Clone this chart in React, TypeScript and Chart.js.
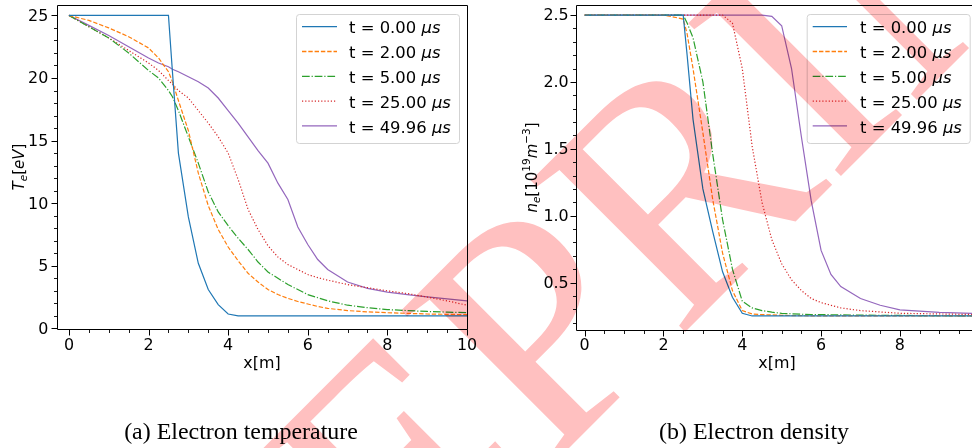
import React, { useEffect, useRef } from "react";
import { Chart, registerables } from "chart.js";

Chart.register(...registerables);

// ---------------- data ----------------
const seriesTimes = ["0.00", "2.00", "5.00", "25.00", "49.96"];
const seriesColors = ["#1f77b4", "#ff7f0e", "#2ca02c", "#d62728", "#9467bd"];
const seriesDashes: number[][] = [[], [4.4, 1.9], [7.7, 1.9, 1.2, 1.9], [1.2, 2.0], []];

// (a) electron temperature [eV] vs x [m]
const xTe = [0, 0.5, 1, 1.5, 2, 2.25, 2.5, 2.6, 2.75, 3, 3.25, 3.5, 3.75, 4, 4.25, 4.5, 4.75, 5, 5.25, 5.5, 5.75, 6, 6.25, 6.5, 7, 7.5, 8, 8.5, 9, 9.5, 10];
const teT0 = [25, 25, 25, 25, 25, 25, 25, 20.5, 14, 8.9, 5.2, 3.1, 1.9, 1.15, 1, 1, 1, 1, 1, 1, 1, 1, 1, 1, 1, 1, 1, 1, 1, 1, 1];
const teT2 = [25, 24.6, 24.0, 23.3, 22.4, 21.6, 20.5, 19.7, 18.2, 15.8, 12.4, 9.8, 7.9, 6.5, 5.4, 4.4, 3.7, 3.1, 2.7, 2.4, 2.15, 1.95, 1.75, 1.6, 1.42, 1.32, 1.25, 1.2, 1.15, 1.12, 1.1];
const teT5 = [25, 24.1, 23.2, 22.0, 20.6, 20.0, 19.0, 18.5, 17.4, 15.3, 13.2, 10.9, 9.3, 8.2, 7.2, 6.3, 5.3, 4.5, 4.0, 3.5, 3.1, 2.7, 2.45, 2.2, 1.85, 1.65, 1.5, 1.42, 1.35, 1.3, 1.25];
const teT25 = [25, 24.1, 23.2, 22.2, 21.2, 20.6, 19.8, 19.5, 19.0, 18.4, 17.4, 16.4, 15.3, 14.0, 11.9, 9.5, 7.9, 6.6, 5.7, 5.1, 4.7, 4.3, 4.05, 3.85, 3.5, 3.25, 3.0, 2.78, 2.5, 2.2, 1.85];
const teT50 = [25, 24.2, 23.4, 22.5, 21.6, 21.2, 20.9, 20.7, 20.5, 20.1, 19.7, 19.2, 18.4, 17.4, 16.4, 15.3, 14.2, 13.2, 11.6, 10.3, 8.1, 6.7, 5.5, 4.7, 3.7, 3.2, 2.9, 2.7, 2.52, 2.36, 2.2];

// (b) electron density [1e19 m^-3] vs x [m]
const xNe = [0, 1, 2, 2.5, 2.6, 2.75, 3, 3.25, 3.5, 3.75, 4, 4.25, 4.5, 4.75, 5, 5.25, 5.5, 5.75, 6, 6.25, 6.5, 7, 7.5, 8, 9, 10];
const neT0 = [2.5, 2.5, 2.5, 2.5, 2.2, 1.72, 1.2, 0.88, 0.58, 0.39, 0.27, 0.25, 0.25, 0.25, 0.25, 0.25, 0.25, 0.25, 0.25, 0.25, 0.25, 0.25, 0.25, 0.25, 0.25, 0.25];
const neT2 = [2.5, 2.5, 2.5, 2.47, 2.36, 2.1, 1.62, 1.12, 0.72, 0.44, 0.29, 0.265, 0.26, 0.258, 0.255, 0.253, 0.252, 0.251, 0.25, 0.25, 0.25, 0.25, 0.25, 0.25, 0.25, 0.25];
const neT5 = [2.5, 2.5, 2.5, 2.5, 2.44, 2.33, 2.0, 1.46, 0.97, 0.6, 0.36, 0.31, 0.29, 0.278, 0.27, 0.266, 0.263, 0.261, 0.26, 0.259, 0.258, 0.256, 0.255, 0.254, 0.252, 0.25];
const neT25 = [2.5, 2.5, 2.5, 2.5, 2.5, 2.5, 2.5, 2.5, 2.5, 2.44, 2.1, 1.52, 1.1, 0.82, 0.64, 0.52, 0.44, 0.38, 0.35, 0.33, 0.31, 0.29, 0.28, 0.27, 0.265, 0.26];
const neT50 = [2.5, 2.5, 2.5, 2.5, 2.5, 2.5, 2.5, 2.5, 2.5, 2.5, 2.5, 2.5, 2.5, 2.49, 2.42, 2.1, 1.59, 1.11, 0.74, 0.56, 0.47, 0.38, 0.33, 0.295, 0.277, 0.268];

const xTicksTe = [0, 2, 4, 6, 8, 10];
const yTicksTe = [0, 5, 10, 15, 20, 25];
const xTicksNe = [0, 2, 4, 6, 8];
const yTicksNe = [0.5, 1.0, 1.5, 2.0, 2.5];

const xAxisTitle = "x[m]";
const captionA = "(a) Electron temperature";
const captionB = "(b) Electron density";
const watermarkText = "PREPRINT";

// ---------------- drawing helpers ----------------
const SX = 1.06;
const FONT = '"DejaVu Sans", sans-serif';
const FS = 15;
const LFS = 15.5;

type Seg = { t: string; it?: boolean; sub?: boolean; sup?: boolean };

function drawRich(
  ctx: CanvasRenderingContext2D,
  segs: Seg[],
  x: number,
  y: number,
  size: number,
  rotate: boolean,
  align: "left" | "center" | "right"
) {
  ctx.save();
  ctx.translate(x, y);
  ctx.scale(SX, 1);
  if (rotate) ctx.rotate(-Math.PI / 2);
  const fontOf = (s: Seg) => `${s.it ? "italic " : ""}${s.sub || s.sup ? size * 0.7 : size}px ${FONT}`;
  let total = 0;
  for (const s of segs) {
    ctx.font = fontOf(s);
    total += ctx.measureText(s.t).width;
  }
  let cx = align === "center" ? -total / 2 : align === "right" ? -total : 0;
  ctx.fillStyle = "#000";
  ctx.textBaseline = "alphabetic";
  ctx.textAlign = "left";
  for (const s of segs) {
    ctx.font = fontOf(s);
    const dy = s.sub ? size * 0.2 : s.sup ? -size * 0.42 : 0;
    ctx.fillText(s.t, cx, dy);
    cx += ctx.measureText(s.t).width;
  }
  ctx.restore();
}

interface PanelCfg {
  xs: number[];
  ys: number[][];
  xMin: number;
  xMax: number;
  yMin: number;
  yMax: number;
  xTicks: number[];
  yTicks: number[];
  xMinor: number;
  yMinor: number;
  yDec: number;
  yAxisW: number;
  xAxisH: number;
  padRight: number;
  rightSpine: boolean;
  yTitle: Seg[];
  yTitleX: number;
  xTitleCX: number;
  yLabelRight: number;
  legend: { x: number; y: number; w: number; h: number; l0: number; l1: number; tx: number };
}

function makeDecor(cfg: PanelCfg) {
  return {
    id: "decor",
    afterDraw(chart: any) {
      const ctx = chart.ctx as CanvasRenderingContext2D;
      const { left, right, top, bottom } = chart.chartArea;
      const sx = chart.scales.x;
      const sy = chart.scales.y;
      const L = Math.round(left) + 0.5;
      const R = Math.round(right) + 0.5;
      const T = Math.round(top) + 0.5;
      const B = Math.round(bottom) + 0.5;
      const RE = cfg.rightSpine ? R : chart.width + 1;
      ctx.save();
      ctx.strokeStyle = "#000";
      ctx.lineWidth = 1;
      ctx.setLineDash([]);
      ctx.beginPath();
      ctx.moveTo(L, T);
      ctx.lineTo(L, B);
      ctx.lineTo(RE, B);
      ctx.moveTo(L, T);
      ctx.lineTo(RE, T);
      if (cfg.rightSpine) {
        ctx.moveTo(R, T);
        ctx.lineTo(R, B);
      }
      ctx.stroke();

      // major ticks
      ctx.beginPath();
      for (const v of cfg.xTicks) {
        const p = Math.round(sx.getPixelForValue(v)) + 0.5;
        ctx.moveTo(p, B);
        ctx.lineTo(p, B + 6);
      }
      for (const v of cfg.yTicks) {
        const p = Math.round(sy.getPixelForValue(v)) + 0.5;
        ctx.moveTo(L, p);
        ctx.lineTo(L - 6, p);
      }
      ctx.stroke();

      // minor ticks
      const isMajor = (v: number, arr: number[]) => arr.some((a) => Math.abs(a - v) < 1e-6);
      ctx.beginPath();
      ctx.lineWidth = 0.9;
      for (let k = Math.ceil(cfg.xMin / cfg.xMinor - 1e-9); k * cfg.xMinor <= cfg.xMax + 1e-9; k++) {
        const v = k * cfg.xMinor;
        if (isMajor(v, cfg.xTicks)) continue;
        const p = Math.round(sx.getPixelForValue(v)) + 0.5;
        ctx.moveTo(p, B);
        ctx.lineTo(p, B + 3.5);
      }
      for (let k = Math.ceil(cfg.yMin / cfg.yMinor - 1e-9); k * cfg.yMinor <= cfg.yMax + 1e-9; k++) {
        const v = k * cfg.yMinor;
        if (isMajor(v, cfg.yTicks)) continue;
        const p = Math.round(sy.getPixelForValue(v)) + 0.5;
        ctx.moveTo(L, p);
        ctx.lineTo(L - 3.5, p);
      }
      ctx.stroke();

      // tick labels
      for (const v of cfg.xTicks) {
        drawRich(ctx, [{ t: String(v) }], sx.getPixelForValue(v), 350, FS, false, "center");
      }
      for (const v of cfg.yTicks) {
        drawRich(ctx, [{ t: v.toFixed(cfg.yDec) }], cfg.yLabelRight, sy.getPixelForValue(v) + FS * 0.364, FS, false, "right");
      }

      // axis titles
      drawRich(ctx, [{ t: xAxisTitle }], cfg.xTitleCX, 367.5, FS, false, "center");
      drawRich(ctx, cfg.yTitle, cfg.yTitleX, (top + bottom) / 2, FS, true, "center");

      // legend
      const lg = cfg.legend;
      ctx.beginPath();
      (ctx as any).roundRect(lg.x + 0.5, lg.y + 0.5, lg.w, lg.h, 3);
      ctx.fillStyle = "rgba(255,255,255,0.8)";
      ctx.fill();
      ctx.strokeStyle = "#d3d3d3";
      ctx.lineWidth = 1;
      ctx.stroke();
      chart.data.datasets.forEach((ds: any, i: number) => {
        const yy = lg.y + 12.7 + i * 24.8;
        ctx.beginPath();
        ctx.setLineDash(seriesDashes[i]);
        ctx.strokeStyle = seriesColors[i];
        ctx.lineWidth = 1.3;
        ctx.moveTo(lg.l0, yy);
        ctx.lineTo(lg.l1, yy);
        ctx.stroke();
        ctx.setLineDash([]);
        drawRich(ctx, [{ t: `t = ${seriesTimes[i]} ` }, { t: "\u03bcs", it: true }], lg.tx, yy + 6.6, LFS, false, "left");
      });
      ctx.restore();
    },
  };
}

const panelTe: PanelCfg = {
  xs: xTe,
  ys: [teT0, teT2, teT5, teT25, teT50],
  xMin: -0.3,
  xMax: 10,
  yMin: -0.05,
  yMax: 25.83,
  xTicks: xTicksTe,
  yTicks: yTicksTe,
  xMinor: 0.5,
  yMinor: 1,
  yDec: 0,
  yAxisW: 57,
  xAxisH: 51,
  padRight: 19,
  rightSpine: true,
  yTitle: [{ t: "T", it: true }, { t: "e", it: true, sub: true }, { t: "[" }, { t: "eV", it: true }, { t: "]" }],
  yTitleX: 24,
  xTitleCX: 262,
  yLabelRight: 48.3,
  legend: { x: 296, y: 14, w: 163, h: 129, l0: 302, l1: 337, tx: 349 },
};

const panelNe: PanelCfg = {
  xs: xNe,
  ys: [neT0, neT2, neT5, neT25, neT50],
  xMin: -0.22,
  xMax: 9.83,
  yMin: 0.145,
  yMax: 2.575,
  xTicks: xTicksNe,
  yTicks: yTicksNe,
  xMinor: 0.5,
  yMinor: 0.1,
  yDec: 1,
  yAxisW: 90,
  xAxisH: 50,
  padRight: 0,
  rightSpine: false,
  yTitle: [
    { t: "n", it: true },
    { t: "e", it: true, sub: true },
    { t: "[10" },
    { t: "19", sup: true },
    { t: "m", it: true },
    { t: "\u22123", sup: true },
    { t: "]" },
  ],
  yTitleX: 50.7,
  xTitleCX: 291,
  yLabelRight: 82.7,
  legend: { x: 320.7, y: 14, w: 163, h: 129, l0: 326.7, l1: 361, tx: 374 },
};

function Panel({ cfg, left }: { cfg: PanelCfg; left: number }) {
  const ref = useRef<HTMLCanvasElement>(null);
  useEffect(() => {
    const canvas = ref.current!;
    const chart = new Chart(canvas, {
      type: "line",
      data: {
        datasets: cfg.ys.map((ys, i) => ({
          label: `t = ${seriesTimes[i]} \u03bcs`,
          data: cfg.xs.map((x, j) => ({ x, y: ys[j] })),
          borderColor: seriesColors[i],
          backgroundColor: seriesColors[i],
          borderWidth: 1.2,
          borderDash: seriesDashes[i],
          pointRadius: 0,
          tension: 0,
          fill: false,
        })),
      },
      options: {
        responsive: false,
        animation: false,
        events: [],
        layout: { padding: { left: 0, top: 5, right: cfg.padRight, bottom: 0 } },
        plugins: { legend: { display: false }, tooltip: { enabled: false } },
        scales: {
          x: {
            type: "linear",
            min: cfg.xMin,
            max: cfg.xMax,
            ticks: { display: false },
            grid: { display: false, drawTicks: false },
            border: { display: false },
            afterFit: (s: any) => {
              s.height = cfg.xAxisH;
            },
          },
          y: {
            type: "linear",
            min: cfg.yMin,
            max: cfg.yMax,
            ticks: { display: false },
            grid: { display: false, drawTicks: false },
            border: { display: false },
            afterFit: (s: any) => {
              s.width = cfg.yAxisW;
            },
          },
        },
      } as any,
      plugins: [makeDecor(cfg)],
    });
    return () => chart.destroy();
  }, [cfg]);
  return (
    <canvas
      ref={ref}
      width={486}
      height={380}
      style={{ position: "absolute", left, top: 0, width: 486, height: 380 }}
    />
  );
}

export default function App() {
  const capRef = useRef<HTMLCanvasElement>(null);
  const wmRef = useRef<HTMLCanvasElement>(null);

  useEffect(() => {
    const c = capRef.current!;
    const ctx = c.getContext("2d")!;
    ctx.clearRect(0, 0, c.width, c.height);
    ctx.fillStyle = "#000";
    ctx.textBaseline = "alphabetic";
    ctx.textAlign = "center";
    ctx.font = '23px "Liberation Serif", serif';
    for (const [text, cx] of [
      [captionA, 241],
      [captionB, 754],
    ] as [string, number][]) {
      ctx.save();
      ctx.translate(cx, 439);
      ctx.scale(1.04, 1);
      ctx.fillText(text, 0, 0);
      ctx.restore();
    }

    const w = wmRef.current!;
    const wctx = w.getContext("2d")!;
    wctx.clearRect(0, 0, w.width, w.height);
    const size = 330;
    wctx.font = `${size}px "Liberation Serif", serif`;
    const pre = wctx.measureText(watermarkText.slice(0, 3)).width;
    const wp = wctx.measureText(watermarkText.charAt(3)).width;
    wctx.save();
    wctx.translate(535, 328);
    wctx.rotate((-45 * Math.PI) / 180);
    wctx.fillStyle = "rgb(255,192,192)";
    wctx.textAlign = "left";
    wctx.textBaseline = "alphabetic";
    wctx.fillText(watermarkText, -(pre + wp / 2), size * 0.33);
    wctx.restore();
  }, []);

  return (
    <div
      style={{
        position: "absolute",
        left: 0,
        top: 0,
        width: 972,
        height: 448,
        background: "#fff",
        overflow: "hidden",
        isolation: "isolate",
      }}
    >
      <canvas ref={capRef} width={972} height={448} style={{ position: "absolute", left: 0, top: 0, width: 972, height: 448 }} />
      <Panel cfg={panelTe} left={0} />
      <Panel cfg={panelNe} left={486} />
      <canvas
        ref={wmRef}
        width={972}
        height={448}
        style={{
          position: "absolute",
          left: 0,
          top: 0,
          width: 972,
          height: 448,
          mixBlendMode: "multiply",
          pointerEvents: "none",
        }}
      />
    </div>
  );
}
